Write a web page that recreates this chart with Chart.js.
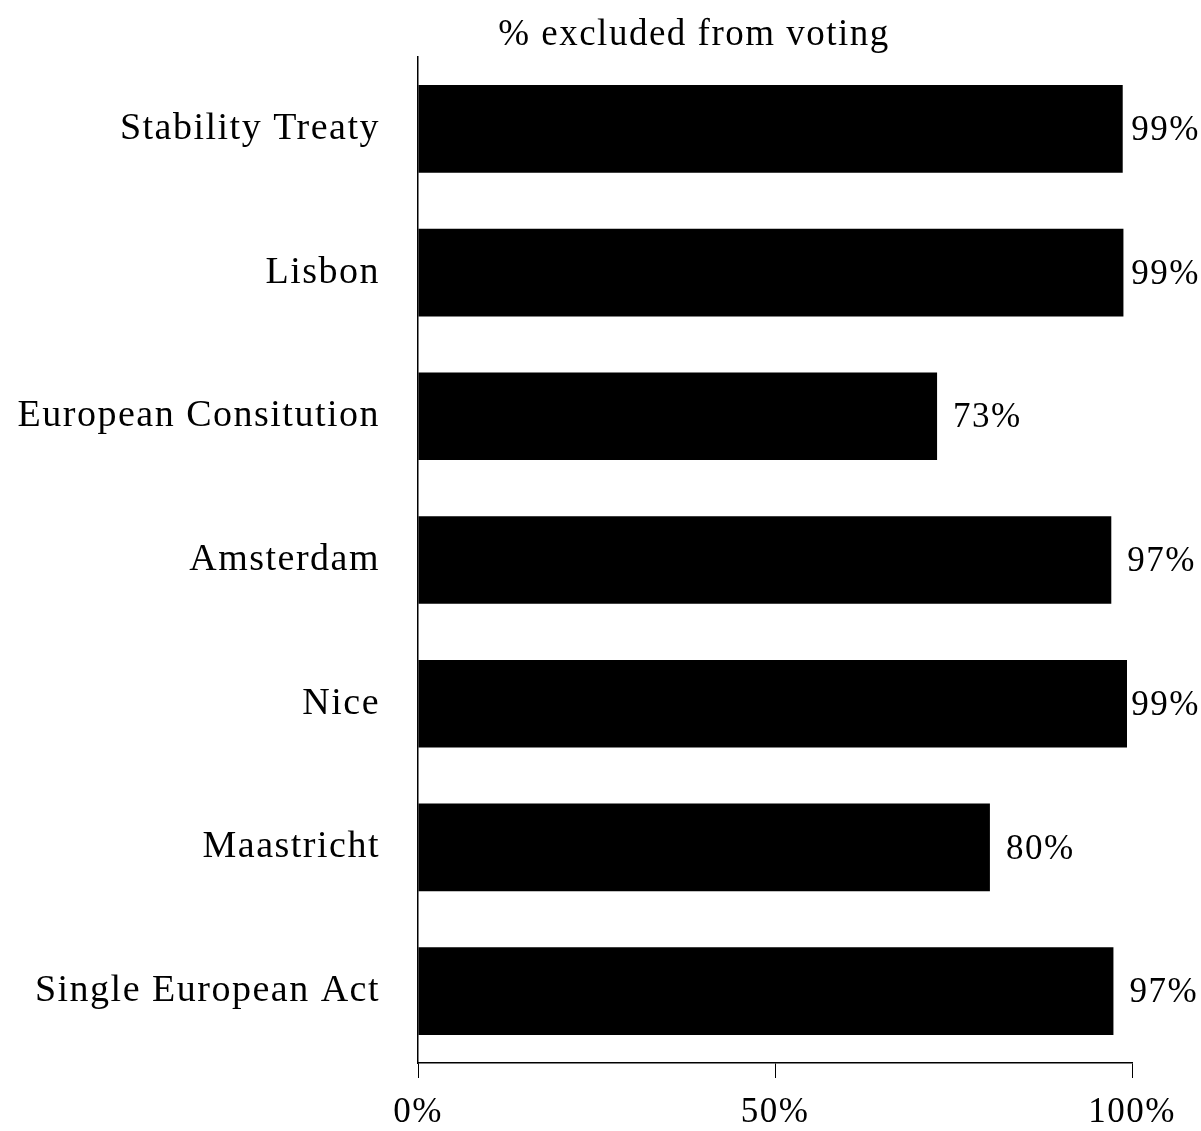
<!DOCTYPE html>
<html>
<head>
<meta charset="utf-8">
<script src="https://cdn.jsdelivr.net/npm/chart.js@4"></script>
<style>
  body { margin: 0; background: #fff; }
  #wrap { width: 1201px; height: 1131px; }
</style>
</head>
<body>
<div id="wrap"><canvas id="chart" width="1201" height="1131"></canvas></div>
<script>
const treaties = ['Stability Treaty', 'Lisbon', 'European Consitution', 'Amsterdam', 'Nice', 'Maastricht', 'Single European Act'];
const excluded = [98.7, 98.8, 72.7, 97.1, 99.3, 80.1, 97.4];
const shownLabels = ['99%', '99%', '73%', '97%', '99%', '80%', '97%'];
const xTicks = [0, 50, 100];
const titleText = '% excluded from voting';

const serif = '"Liberation Serif", "DejaVu Serif", serif';

// wider tracking to get closer to the original Palatino look
const tracking = {
  id: 'tracking',
  beforeDraw(chart) { chart.ctx.letterSpacing = '1.5px'; }
};

// draws the value next to each bar and the title
const extras = {
  id: 'extras',
  afterDatasetsDraw(chart) {
    const ctx = chart.ctx;
    const meta = chart.getDatasetMeta(0);
    ctx.save();
    ctx.letterSpacing = '1.5px';
    ctx.fillStyle = '#000';
    ctx.font = '35px ' + serif;
    ctx.textBaseline = 'middle';
    ctx.textAlign = 'left';
    meta.data.forEach((bar, i) => {
      const w = ctx.measureText(shownLabels[i]).width;
      // keep label inside the canvas when the bar is near 100%
      const x = Math.min(bar.x + 16, chart.width - w - 1);
      ctx.fillText(shownLabels[i], x, bar.y + 2);
    });
    ctx.font = '37px ' + serif;
    ctx.textAlign = 'center';
    ctx.textBaseline = 'alphabetic';
    ctx.fillText(titleText, 694, 45);
    ctx.restore();
  }
};

new Chart(document.getElementById('chart'), {
  type: 'bar',
  data: {
    labels: treaties,
    datasets: [{
      data: excluded,
      backgroundColor: '#000',
      borderWidth: 0,
      categoryPercentage: 1,
      barPercentage: 0.61
    }]
  },
  options: {
    indexAxis: 'y',
    responsive: false,
    animation: false,
    layout: { padding: { top: 57, right: 69, left: 0, bottom: 0 } },
    plugins: { legend: { display: false }, tooltip: { enabled: false } },
    scales: {
      x: {
        min: 0,
        max: 100,
        afterBuildTicks(s) { s.ticks = xTicks.map(v => ({ value: v })); },
        afterFit(s) { s.height = 68; },
        border: { color: '#000', width: 1.5 },
        grid: { drawOnChartArea: false, color: '#000', tickLength: 15 },
        ticks: {
          color: '#000',
          font: { family: serif, size: 35 },
          padding: 14,
          maxRotation: 0,
          callback: v => v + '%'
        }
      },
      y: {
        afterFit(s) { s.width = 418; },
        border: { color: '#000', width: 1.5 },
        grid: { display: false },
        ticks: {
          color: '#000',
          font: { family: serif, size: 38 },
          padding: 30
        }
      }
    }
  },
  plugins: [tracking, extras]
});
</script>
</body>
</html>
